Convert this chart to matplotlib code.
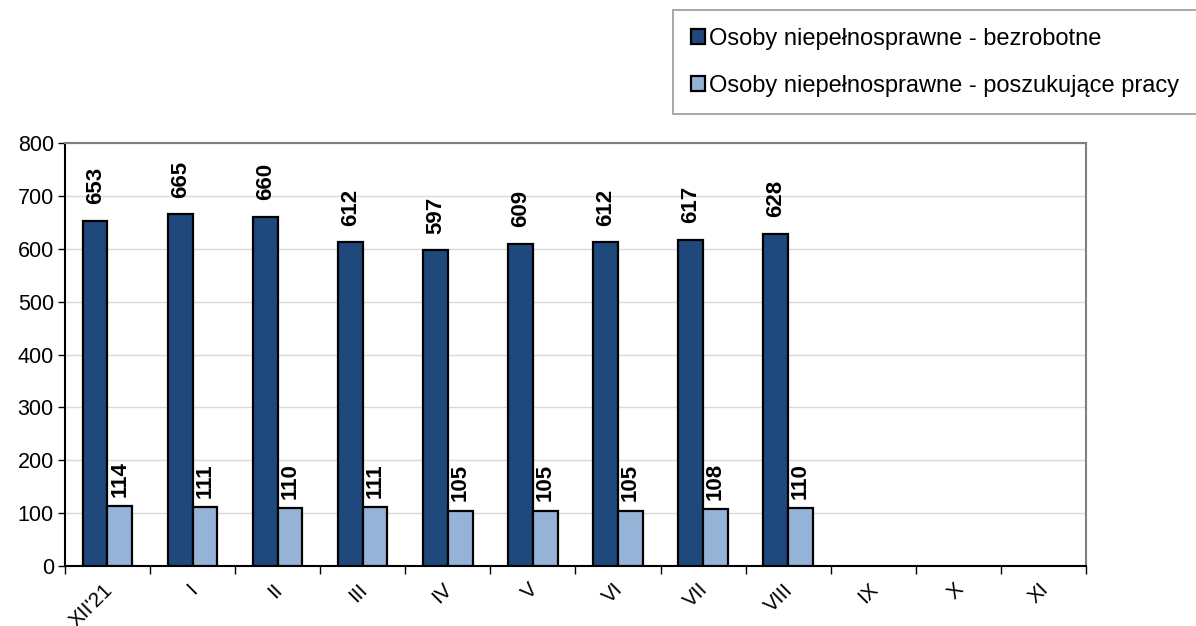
import numpy as np
import matplotlib.pyplot as plt
import matplotlib.transforms as mtransforms

plt.rcParams["font.family"] = ["Liberation Sans", "DejaVu Sans"]

# months shown on the x axis
months = ["XII'21", "I", "II", "III", "IV", "V", "VI", "VII", "VIII", "IX", "X", "XI"]
# values (IX-XI are empty)
bezrobotne = [653, 665, 660, 612, 597, 609, 612, 617, 628]
poszukujace = [114, 111, 110, 111, 105, 105, 105, 108, 110]

dark = "#1F497D"
light = "#95B3D7"

fig = plt.figure(figsize=(11.96, 6.26), dpi=100)
ax = fig.add_axes([0.0543, 0.0958, 0.8537, 0.6758])

w = 0.29
x1 = np.arange(len(bezrobotne))
b1 = ax.bar(x1 - w / 2, bezrobotne, w, color=dark, edgecolor="black", linewidth=1.6,
            label="Osoby niepełnosprawne - bezrobotne", zorder=3)
b2 = ax.bar(x1 + w / 2, poszukujace, w, color=light, edgecolor="black", linewidth=1.6,
            label="Osoby niepełnosprawne - poszukujące pracy", zorder=3)

# value labels above the bars
for bars, off in ((b1, 12), (b2, 6.5)):
    for b in bars:
        ax.annotate(str(int(b.get_height())),
                    (b.get_x() + b.get_width() / 2, b.get_height()),
                    xytext=(0, off), textcoords="offset points",
                    rotation=90, ha="center", va="bottom",
                    fontsize=16, fontweight="bold", zorder=4)

ax.set_xlim(-0.5, len(months) - 0.5)
ax.set_ylim(0, 800)
ax.set_yticks(range(0, 801, 100))
ax.tick_params(axis="y", labelsize=15.5, length=5, width=1, pad=3)

ax.set_xticks(np.arange(len(months)))
ax.set_xticklabels(months, rotation=45, ha="right", rotation_mode="anchor", fontsize=15)
ax.tick_params(axis="x", which="major", length=0, pad=10)
ax.set_xticks(np.arange(len(months) + 1) - 0.5, minor=True)
ax.tick_params(axis="x", which="minor", length=6, width=1)
shift = mtransforms.ScaledTranslation(-5 / 100, 0, fig.dpi_scale_trans)
for lab in ax.get_xticklabels():
    lab.set_transform(lab.get_transform() + shift)

ax.grid(axis="y", color="#d9d9d9", linewidth=1, zorder=0)
ax.spines["left"].set_color("black")
ax.spines["bottom"].set_color("black")
ax.spines["top"].set_color("#808080")
ax.spines["right"].set_color("#808080")
for s in ax.spines.values():
    s.set_linewidth(1.5)

leg = fig.legend(loc="upper left", bbox_to_anchor=(0.563, 0.984), fontsize=17,
                 frameon=True, fancybox=False, edgecolor="#808080",
                 handlelength=0.6, handleheight=0.6, handletextpad=0.15,
                 labelspacing=1.05, borderpad=0.75, borderaxespad=0)
leg.get_frame().set_linewidth(1.2)

fig.savefig("out.png", dpi=100)
